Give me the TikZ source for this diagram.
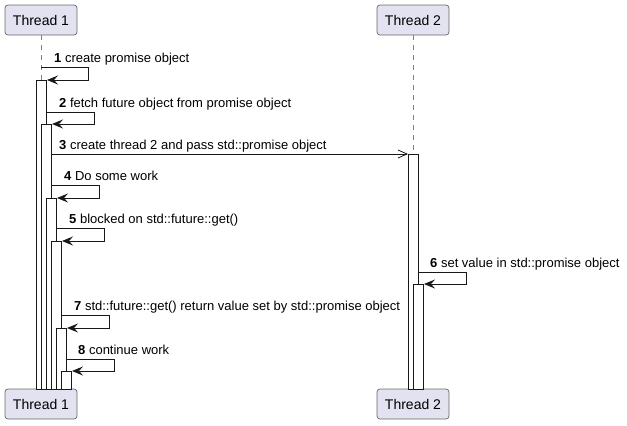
\documentclass[tikz,border=0pt]{standalone}
\usepackage{fontspec}
\setmainfont{Liberation Sans}
\usetikzlibrary{arrows.meta,calc}
\definecolor{partfill}{HTML}{E2E2F0}
\definecolor{ink}{HTML}{181818}
\begin{document}
\begin{tikzpicture}[x=1pt,y=-1pt,
 part/.style={draw=ink!65, fill=partfill, rounded corners=3pt, line width=0.7pt, minimum width=72pt, minimum height=30pt, inner sep=0pt, font=\fontsize{14}{16}\selectfont},
 life/.style={draw=ink!55, line width=0.6pt, dash pattern=on 5pt off 5pt},
 actbox/.style={draw=ink, fill=white, line width=1pt, minimum width=10pt, inner sep=0pt, anchor=north west},
 msg/.style={draw=ink, line width=1pt, -{Stealth[length=11pt,width=9pt,inset=4pt]}},
 amsg/.style={draw=ink, line width=1pt, -{Straight Barb[length=9pt,width=8pt,line width=0.8pt]}},
 lbl/.style={anchor=base west, inner sep=0pt, font=\fontsize{13}{15}\selectfont}]
\useasboundingbox (0,0) rectangle (627,426);
% participants
\node[part] (t1top) at (41,20) {Thread 1};
\node[part] (t2top) at (413,20) {Thread 2};
\node[part] (t1bot) at (41,404) {Thread 1};
\node[part] (t2bot) at (413,404) {Thread 2};
% lifelines
\draw[life] (t1top.south) -- (t1bot.north);
\draw[life] (t2top.south) -- (t2bot.north);
% activations
\node[actbox, minimum height=309pt] (a1) at (36,80) {};
\node[actbox, minimum height=265pt] (a2) at (41,124) {};
\node[actbox, minimum height=191pt] (a3) at (46,198) {};
\node[actbox, minimum height=148pt] (a4) at (51,241) {};
\node[actbox, minimum height=61pt] (a5) at (56,328) {};
\node[actbox, minimum height=18pt] (a6) at (61,371) {};
\node[actbox, minimum height=235pt] (b1) at (408,154) {};
\node[actbox, minimum height=105pt] (b2) at (413,284) {};
% message start points
\coordinate (m1s) at ($(t1top.south)+(0,32)$);
\coordinate (m2s) at ($(a1.north east)+(0,32)$);
\coordinate (m3s) at ($(a2.north east)+(0,30)$);
\coordinate (m4s) at ($(a2.north east)+(0,61)$);
\coordinate (m5s) at ($(a3.north east)+(0,30)$);
\coordinate (m6s) at ($(b1.north east)+(0,118)$);
\coordinate (m7s) at ($(a4.north east)+(0,74)$);
\coordinate (m8s) at ($(a5.north east)+(0,31)$);
% messages
\draw[msg] (m1s) -- ++(47,0) |- (a1.north east);
\draw[msg] (m2s) -- ++(47,0) |- (a2.north east);
\draw[amsg] (m3s) -- (b1.north west);
\draw[msg] (m4s) -- ++(47,0) |- (a3.north east);
\draw[msg] (m5s) -- ++(47,0) |- (a4.north east);
\draw[msg] (m6s) -- ++(47,0) |- (b2.north east);
\draw[msg] (m7s) -- ++(47,0) |- (a5.north east);
\draw[msg] (m8s) -- ++(47,0) |- (a6.north east);
% labels
\node[lbl] (l1) at ($(m1s)+(13,-5)$) {\textbf{1} create promise object};
\node[lbl] (l2) at ($(m2s)+(12,-5)$) {\textbf{2} fetch future object from promise object};
\node[lbl] (l3) at ($(m3s)+(7,-5)$) {\textbf{3} create thread 2 and pass std::promise object};
\node[lbl] (l4) at ($(m4s)+(12,-5)$) {\textbf{4} Do some work};
\node[lbl] (l5) at ($(m5s)+(12,-5)$) {\textbf{5} blocked on std::future::get()};
\node[lbl] (l6) at ($(m6s)+(11,-5)$) {\textbf{6} set value in std::promise object};
\node[lbl] (l7) at ($(m7s)+(12,-5)$) {\textbf{7} std::future::get() return value set by std::promise object};
\node[lbl] (l8) at ($(m8s)+(11,-5)$) {\textbf{8} continue work};
\end{tikzpicture}
\end{document}
